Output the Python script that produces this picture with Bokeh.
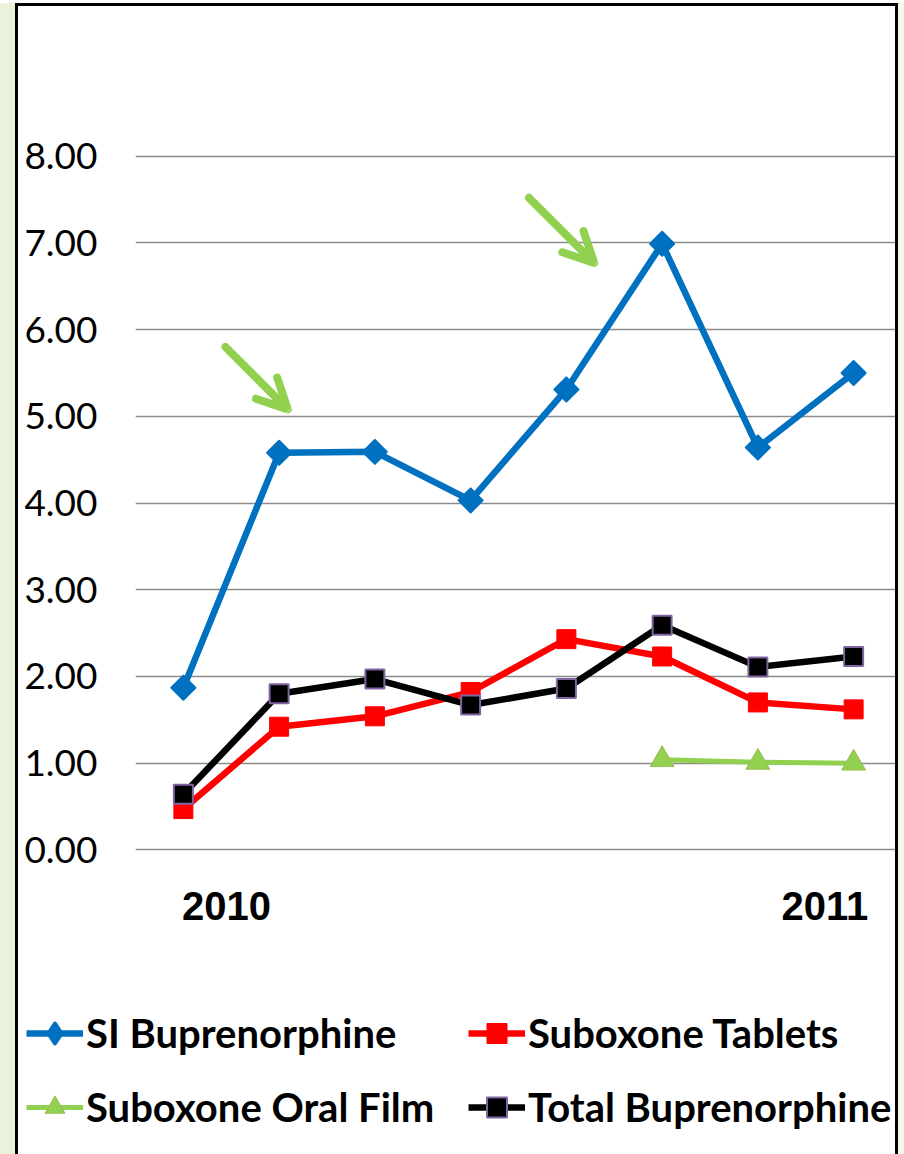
import numpy as np
from bokeh.plotting import figure
from bokeh.layouts import column
from bokeh.models import (Range1d, FixedTicker, Legend, LegendItem, Arrow, OpenHead,
                          ColumnDataSource, PrintfTickFormatter)
from bokeh.embed import file_html
from bokeh.resources import INLINE

# ---- data -------------------------------------------------------------
periods = [0, 1, 2, 3, 4, 5, 6, 7]          # eight consecutive reporting periods
si_buprenorphine = [1.87, 4.58, 4.59, 4.03, 5.31, 6.99, 4.64, 5.50]
suboxone_tablets = [0.47, 1.42, 1.54, 1.82, 2.43, 2.23, 1.70, 1.62]
suboxone_film = [np.nan, np.nan, np.nan, np.nan, np.nan, 1.04, 1.01, 1.00]
total_buprenorphine = [0.64, 1.80, 1.97, 1.67, 1.86, 2.59, 2.11, 2.23]

series_names = ["SI Buprenorphine", "Suboxone Tablets", "Suboxone Oral Film", "Total Buprenorphine"]
year_labels = ["2010", "2011"]
year_tick_pos = [0.45, 6.70]
y_ticks = [0, 1, 2, 3, 4, 5, 6, 7, 8]

# highlight arrows (tail x, tail y, tip x, tip y) in data units
arrow_x0 = [0.44, 3.61]
arrow_y0 = [5.80, 7.52]
arrow_x1 = [1.09, 4.29]
arrow_y1 = [5.08, 6.77]

BLUE = "#0070C0"
RED = "#FF0000"
GREEN = "#92D050"
PURPLE = "#8064A2"

line_styles = {
    "si": dict(line_color=BLUE, line_width=6.5, line_join="round"),
    "tab": dict(line_color=RED, line_width=6.5, line_join="round"),
    "film": dict(line_color=GREEN, line_width=5, line_join="round"),
    "tot": dict(line_color="black", line_width=6.5, line_join="round"),
}
marker_styles = {
    "si": dict(marker="square", angle=np.pi / 4, size=17, fill_color=BLUE,
               line_color=BLUE, line_width=2, line_join="round"),
    "tab": dict(marker="square", size=19, fill_color=RED, line_color=RED, line_width=1),
    "film": dict(marker="triangle", size=24, fill_color=GREEN, line_color="#9BBB59", line_width=1),
    "tot": dict(marker="square", size=19, fill_color="black", line_color=PURPLE, line_width=2),
}
# legend keys: the key swatch ignores marker rotation, so the SI key uses a diamond
legend_marker_styles = dict(marker_styles)
legend_marker_styles["si"] = dict(marker="diamond", fill_color=BLUE, line_color=BLUE,
                                  line_width=4, line_join="round")
keys = ["si", "tab", "film", "tot"]

src = ColumnDataSource(dict(x=periods, si=si_buprenorphine, tab=suboxone_tablets,
                            film=suboxone_film, tot=total_buprenorphine))

# ---- main chart -------------------------------------------------------
p = figure(width=883, height=947, output_backend="svg", toolbar_location=None,
           x_range=Range1d(-0.5, 7.5), y_range=Range1d(-0.1, 9.0),
           min_border_left=117, min_border_right=0, min_border_top=63,
           min_border_bottom=95)
p.frame_align = False
p.styles = {"border-top": "3px solid black", "border-left": "3px solid black",
            "border-right": "3px solid black", "box-sizing": "border-box"}
p.outline_line_color = None
p.background_fill_color = "white"
p.border_fill_color = "white"

p.xgrid.visible = False
p.ygrid.ticker = FixedTicker(ticks=y_ticks)
p.ygrid.grid_line_color = "#8C8C8C"
p.ygrid.grid_line_width = 1.6

p.yaxis.ticker = FixedTicker(ticks=y_ticks)
p.yaxis.formatter = PrintfTickFormatter(format="%.2f")
p.yaxis.axis_line_color = None
p.yaxis.major_tick_line_color = None
p.yaxis.minor_tick_line_color = None
p.yaxis.major_label_text_font = "Lato"
p.yaxis.major_label_text_font_size = "37px"
p.yaxis.major_label_text_color = "black"
p.yaxis.major_label_standoff = 32

p.xaxis.ticker = FixedTicker(ticks=year_tick_pos)
p.xaxis.major_label_overrides = {year_tick_pos[i]: year_labels[i] for i in range(len(year_labels))}
p.xaxis.axis_line_color = None
p.xaxis.major_tick_line_color = None
p.xaxis.minor_tick_line_color = None
p.xaxis.major_label_text_font = "Liberation Sans"
p.xaxis.major_label_text_font_style = "bold"
p.xaxis.major_label_text_font_size = "40px"
p.xaxis.major_label_text_color = "black"
p.xaxis.major_label_standoff = 27

for k in ["si", "tab", "tot", "film"]:
    p.line("x", k, source=src, **line_styles[k])
    p.scatter("x", k, source=src, **marker_styles[k])

for i in range(len(arrow_x0)):
    p.add_layout(Arrow(end=OpenHead(size=30, line_color=GREEN, line_width=8, line_cap="round"),
                       x_start=arrow_x0[i], y_start=arrow_y0[i],
                       x_end=arrow_x1[i], y_end=arrow_y1[i],
                       line_color=GREEN, line_width=8, line_cap="round"))

# ---- legend strip (same box, below the chart) -------------------------
# the legend's renderers share the data but their view is off the data, so only the key shows
pl = figure(width=883, height=204, output_backend="svg", toolbar_location=None,
            x_range=Range1d(100, 101), y_range=Range1d(100, 101),
            x_axis_type=None, y_axis_type=None,
            min_border_left=0, min_border_right=0, min_border_top=0, min_border_bottom=0)
pl.frame_align = False
pl.styles = {"border-left": "3px solid black", "border-right": "3px solid black",
             "box-sizing": "border-box"}
pl.outline_line_color = None
pl.background_fill_color = "white"
pl.border_fill_color = "white"

items = []
for k, name in zip(keys, series_names):
    lr = pl.line("x", k, source=src, **line_styles[k])
    sr = pl.scatter("x", k, source=src, **legend_marker_styles[k])
    items.append(LegendItem(label=name, renderers=[lr, sr]))

legend = Legend(items=items, location=(8, 22), orientation="horizontal", ncols=2,
                label_text_font="Lato", label_text_font_style="bold",
                label_text_font_size="40px", label_text_color="black",
                glyph_width=57, glyph_height=50, label_height=44, label_width=358,
                label_standoff=3, spacing=24, padding=0, margin=0,
                border_line_color=None, background_fill_alpha=0)
pl.add_layout(legend, "center")

layout = column(p, pl, spacing=0)
layout.styles = {"margin-left": "15px", "margin-top": "3px",
                 "box-shadow": "-15px 0 0 0 #EAF3D9, 9px 0 0 0 #F5F7E8"}

open("out.html", "w").write(file_html(layout, INLINE))
